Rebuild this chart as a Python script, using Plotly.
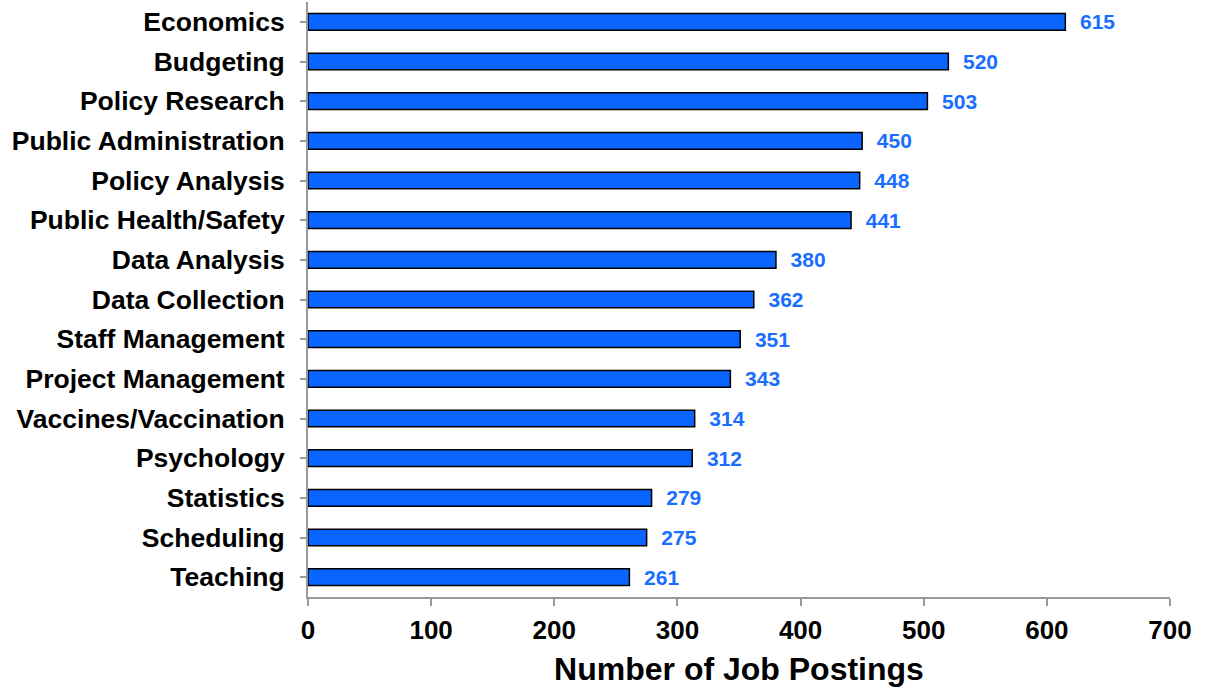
import plotly.graph_objects as go

skills = ["Economics", "Budgeting", "Policy Research", "Public Administration",
          "Policy Analysis", "Public Health/Safety", "Data Analysis", "Data Collection",
          "Staff Management", "Project Management", "Vaccines/Vaccination",
          "Psychology", "Statistics", "Scheduling", "Teaching"]
postings = [615, 520, 503, 450, 448, 441, 380, 362, 351, 343, 314, 312, 279, 275, 261]

font_family = "Liberation Sans, Arial, sans-serif"

fig = go.Figure()
fig.add_bar(
    x=postings, y=skills, orientation="h",
    marker=dict(color="#0A64FF", line=dict(color="black", width=1.5)),
    width=0.42,
    text=["  " + str(v) for v in postings],
    textposition="outside",
    constraintext="none",
    textfont=dict(family=font_family, size=21, color="#1A6EFF", weight="bold"),
    cliponaxis=False,
)

fig.update_layout(
    width=1210, height=687,
    margin=dict(l=308, r=40, t=2, b=90),
    plot_bgcolor="white", paper_bgcolor="white",
    showlegend=False,
    font=dict(family=font_family, color="black"),
)
fig.update_yaxes(
    autorange="reversed", automargin=False,
    showline=True, linecolor="#999999", linewidth=2,
    ticks="outside", ticklen=6, tickcolor="#999999", tickwidth=1.5,
    tickfont=dict(size=26.5, family=font_family, color="black", weight="bold"),
    ticklabelstandoff=10,
    showgrid=False,
)
fig.update_xaxes(
    range=[0, 700], dtick=100, automargin=False,
    showline=True, linecolor="#999999", linewidth=2,
    ticks="outside", ticklen=7, tickcolor="#999999", tickwidth=1.5,
    tickfont=dict(size=26, family=font_family, color="black", weight="bold"),
    ticklabelstandoff=2,
    showgrid=False, zeroline=False,
    title=dict(text="<b>Number of Job Postings</b>", font=dict(size=32, family=font_family), standoff=15),
)

# drop the browser's default 8px body margin so the figure sits at the page corner
fig.write_html("out.html", config={"displayModeBar": False},
               post_script="document.body.style.margin='0';")
